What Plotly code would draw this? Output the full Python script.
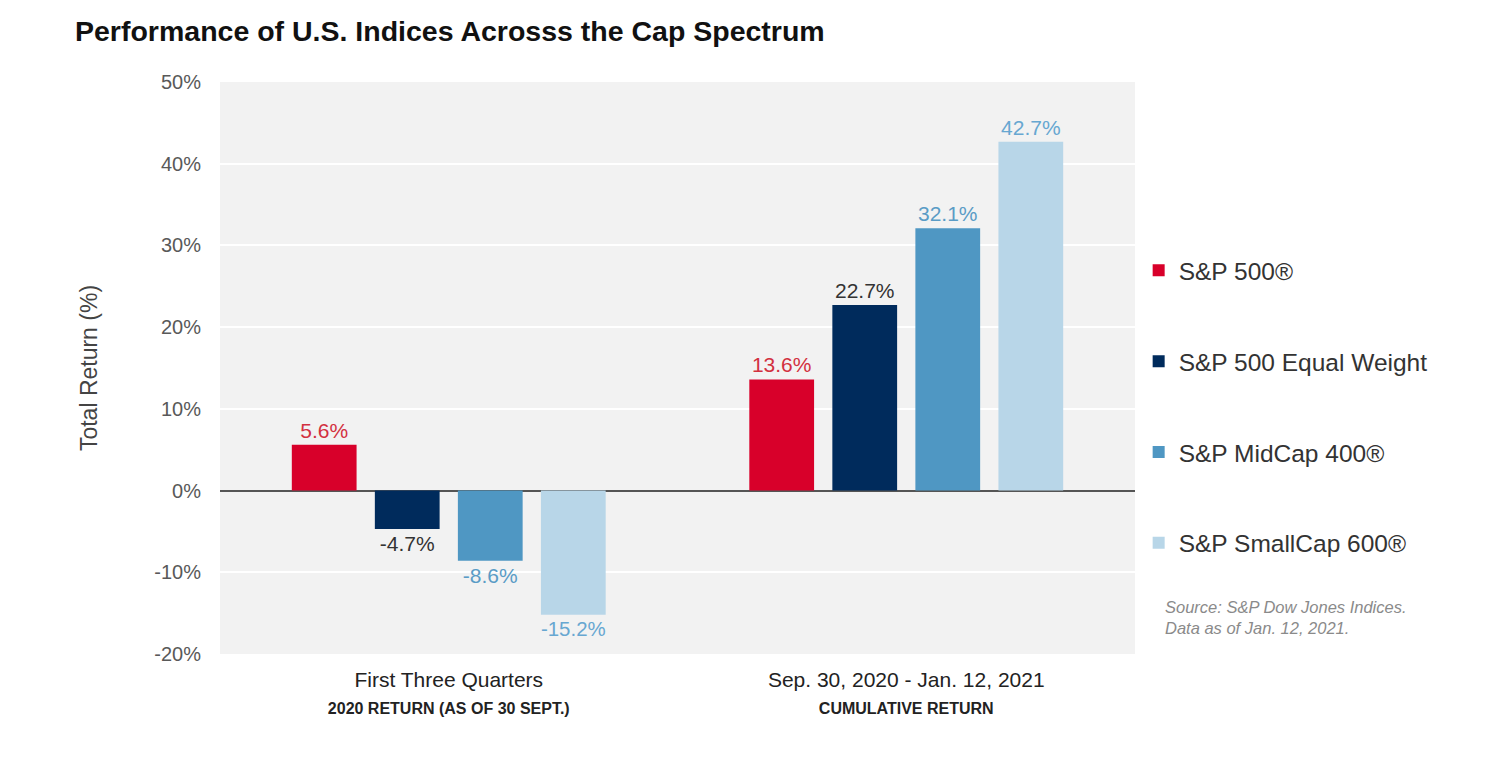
import plotly.graph_objects as go

categories = ["First Three Quarters", "Sep. 30, 2020 - Jan. 12, 2021"]
subtitles = ["2020 RETURN (AS OF 30 SEPT.)", "CUMULATIVE RETURN"]
series_names = ["S&P 500®", "S&P 500 Equal Weight", "S&P MidCap 400®", "S&P SmallCap 600®"]
sp500 = [5.6, 13.6]
sp500_ew = [-4.7, 22.7]
midcap400 = [-8.6, 32.1]
smallcap600 = [-15.2, 42.7]
series_values = [sp500, sp500_ew, midcap400, smallcap600]
y_ticks = [-20, -10, 0, 10, 20, 30, 40, 50]

bar_colors = ["#d8002a", "#002b5c", "#4f97c3", "#b8d6e8"]
label_colors = ["#d2303f", "#333333", "#5a9cc6", "#67a7d1"]

FONT = "Liberation Sans, Arial, sans-serif"

fig = go.Figure()
for i, (name, vals) in enumerate(zip(series_names, series_values)):
    fig.add_trace(go.Bar(
        name=name,
        x=categories,
        y=vals,
        marker=dict(color=bar_colors[i], line=dict(width=0)),
        text=[f"{v:.1f}%" for v in vals],
        textposition="outside",
        cliponaxis=False,
        textfont=dict(color=label_colors[i], size=21, family=FONT),
        legendgroup=f"g{i}",
    ))

ticktext = [
    f"{c}<br><span style='font-size:16px'><b>{s}</b></span>"
    for c, s in zip(categories, subtitles)
]

fig.update_layout(
    width=1496, height=762,
    paper_bgcolor="white",
    plot_bgcolor="#f2f2f2",
    font=dict(family=FONT, color="#333333"),
    margin=dict(l=212, r=369, t=74, b=116),
    barmode="group",
    bargap=0.274,
    bargroupgap=0.22,
    title=dict(
        text="<b>Performance of U.S. Indices Acrosss the Cap Spectrum</b>",
        x=67/1496, xanchor="left", y=1-23/762, yanchor="middle",
        font=dict(size=28.5, color="#111111", family=FONT),
    ),
    showlegend=True,
    legend=dict(
        x=1.004, xanchor="left", y=0.71, yanchor="top",
        font=dict(size=24.5, color="#333333"),
        tracegroupgap=56,
        itemwidth=30,
        bgcolor="rgba(0,0,0,0)",
    ),
    xaxis=dict(
        tickmode="array",
        tickvals=categories,
        ticktext=ticktext,
        tickfont=dict(size=21, color="#222222"),
        showgrid=False,
        zeroline=False,
        showline=False,
        ticks="",
        ticklabelstandoff=11,
    ),
    yaxis=dict(
        range=[-20, 50],
        tickvals=y_ticks,
        ticktext=[f"{t}%" for t in y_ticks],
        tickfont=dict(size=20, color="#595959"),
        gridcolor="white",
        gridwidth=1.5,
        zeroline=True,
        zerolinecolor="#555555",
        zerolinewidth=1.5,
        showline=False,
        ticks="",
        ticklabelstandoff=18,
        title=dict(text="Total Return (%)", font=dict(size=23, color="#444444"), standoff=50),
    ),
)

fig.add_annotation(
    text="<i>Source: S&P Dow Jones Indices.<br>Data as of Jan. 12, 2021.</i>",
    xref="paper", yref="paper",
    x=(1163-220)/915, y=(654-596)/572,
    xanchor="left", yanchor="top", align="left",
    showarrow=False,
    font=dict(size=16.5, color="#8a8a8a"),
)

fig.write_html("out.html")
